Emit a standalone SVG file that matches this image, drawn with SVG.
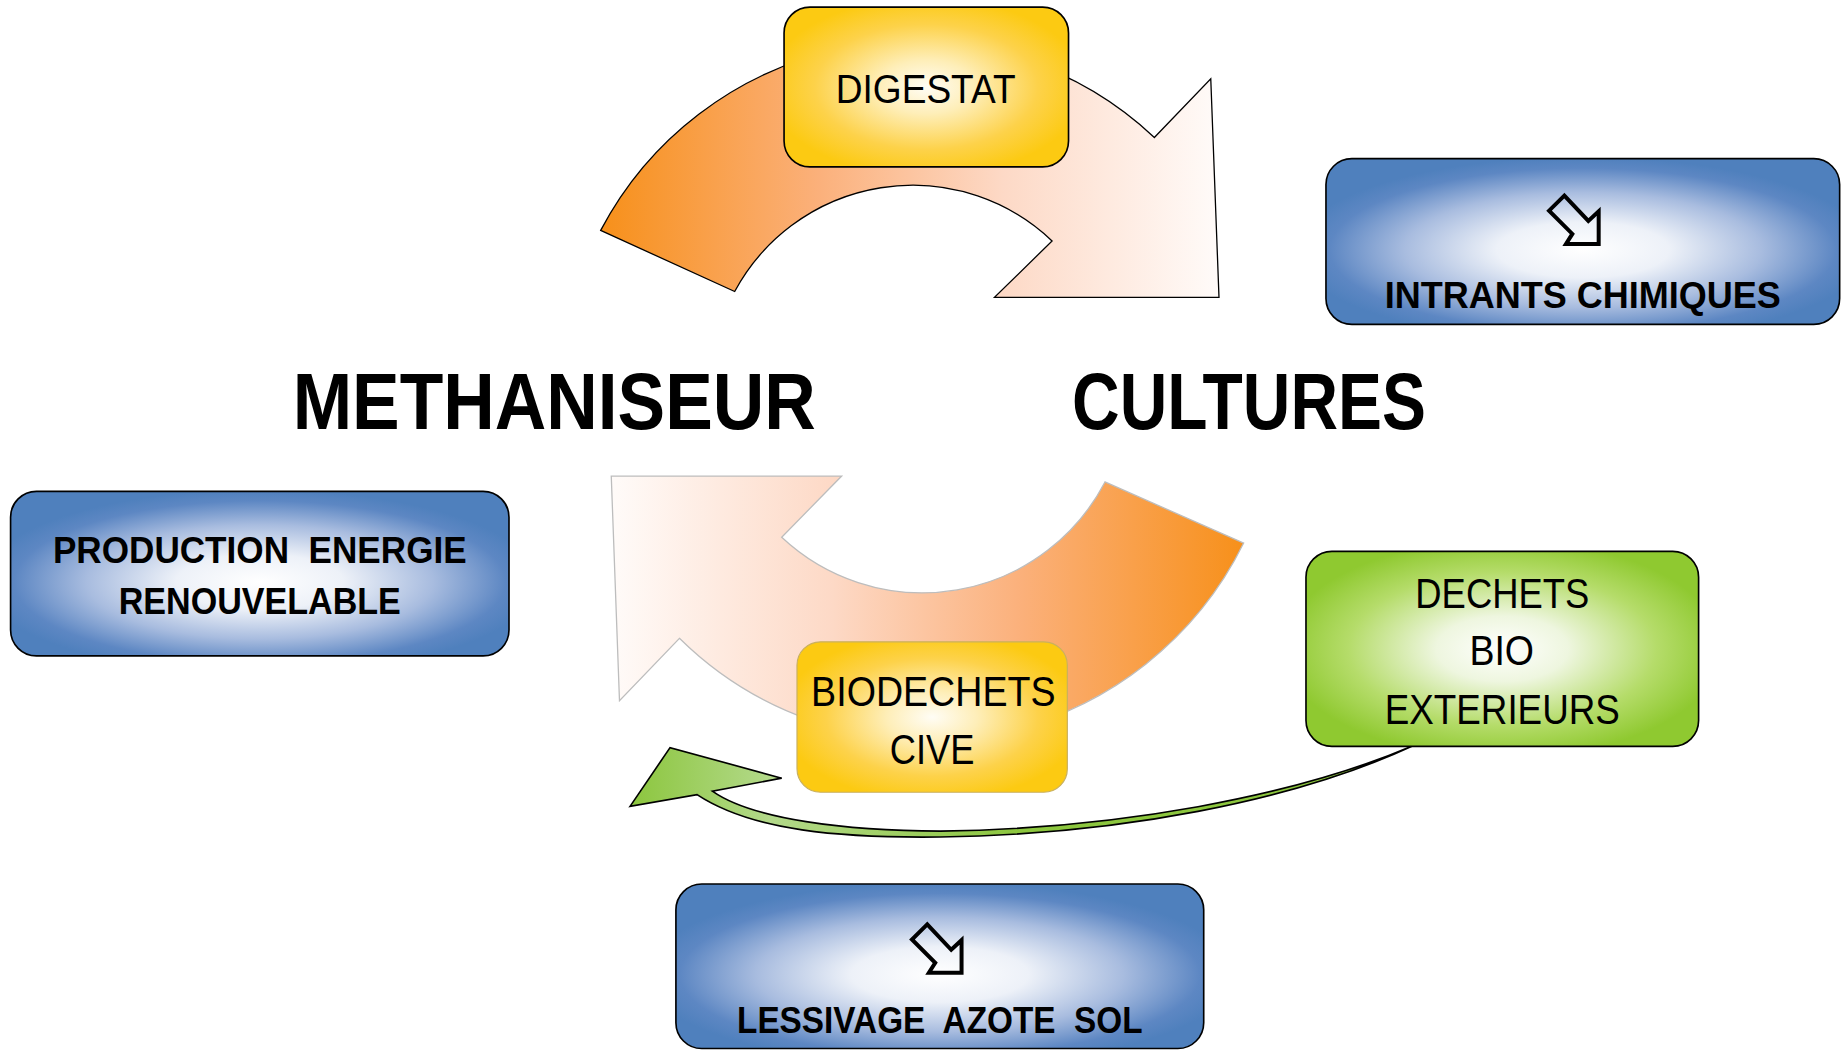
<svg xmlns="http://www.w3.org/2000/svg" width="1843" height="1051" viewBox="0 0 1843 1051">
<defs>
<style>
.t{font-family:"Liberation Sans",Arial,sans-serif;fill:#000;white-space:pre}
.b{font-weight:bold}
.box{stroke:#000;stroke-width:1.4}
.icon{fill:none;stroke:#000;stroke-width:3.4;stroke-linejoin:miter}
</style>
<linearGradient id="gTop" gradientUnits="userSpaceOnUse" x1="511" y1="0" x2="1037" y2="0">
<stop offset="0" stop-color="#f7901a"/>
<stop offset="0.35" stop-color="#fbb07a"/>
<stop offset="0.65" stop-color="#fdd9c6"/>
<stop offset="1" stop-color="#fffbf9"/>
</linearGradient>
<linearGradient id="gBot" gradientUnits="userSpaceOnUse" x1="520" y1="0" x2="1058" y2="0">
<stop offset="0" stop-color="#fffbf9"/>
<stop offset="0.35" stop-color="#fdd9c6"/>
<stop offset="0.65" stop-color="#fbb07a"/>
<stop offset="1" stop-color="#f7901a"/>
</linearGradient>
<linearGradient id="gGreenArrow" gradientUnits="userSpaceOnUse" x1="536" y1="0" x2="1200" y2="0">
<stop offset="0" stop-color="#8cc63e"/>
<stop offset="0.18" stop-color="#b3d98a"/>
<stop offset="0.5" stop-color="#8cc63e"/>
<stop offset="1" stop-color="#8cc63e"/>
</linearGradient>
<radialGradient id="gBlue" cx="0.5" cy="0.55" r="0.56">
<stop offset="0" stop-color="#ffffff"/>
<stop offset="0.3" stop-color="#edf1f8"/>
<stop offset="0.62" stop-color="#a8bcdf"/>
<stop offset="0.88" stop-color="#5d87c3"/>
<stop offset="1" stop-color="#4f80bd"/>
</radialGradient>
<radialGradient id="gYellow" cx="0.5" cy="0.5" r="0.56">
<stop offset="0" stop-color="#fffdf5"/>
<stop offset="0.3" stop-color="#feeeb8"/>
<stop offset="0.7" stop-color="#fdd24a"/>
<stop offset="1" stop-color="#fcca12"/>
</radialGradient>
<radialGradient id="gGreen" cx="0.5" cy="0.5" r="0.56">
<stop offset="0" stop-color="#ffffff"/>
<stop offset="0.3" stop-color="#eef6df"/>
<stop offset="0.7" stop-color="#b5dc6a"/>
<stop offset="1" stop-color="#8fc930"/>
</radialGradient>
<path id="dnArrow" d="M-9.2,-20.6 L-22.2,-7.8 L-2.4,12 L-7.8,20.5 L20,20.5 L20,-7.2 L11.2,1 Z"/>
</defs>
<rect width="1843" height="1051" fill="#fff"/>
<g transform="scale(1.1755)">
<g id="connectors">
<path id="arc-top" d="M511,196 A300,300 0 0 1 982,117 L1030,67 L1037,253 L846,253 L895,205 A172,172 0 0 0 625,248 Z" fill="url(#gTop)" stroke="#000" stroke-width="1.1"/>
<path id="arc-bottom" d="M1058,462 A300,300 0 0 1 578,543 L527,596 L520,405 L716,405 L665,457 A175,175 0 0 0 940,410 Z" fill="url(#gBot)" stroke="#bdbdbd" stroke-width="1.1"/>
<path id="green-arrow" d="M536,686 L570,636 L665,662 L606,673 C640,697 720,707 800,707 C950,705 1100,678 1203,634 C1100,682 950,710 800,712 C715,713 640,707 593,676 Z" fill="url(#gGreenArrow)" stroke="#000" stroke-width="1.4" stroke-linejoin="miter"/>
</g>
<g id="digestat">
<rect class="box" x="667" y="6" width="242" height="136" rx="22" fill="url(#gYellow)"/>
<text class="t" x="711" y="88" font-size="35" textLength="153" lengthAdjust="spacingAndGlyphs">DIGESTAT</text>
</g>
<g id="biodechets">
<rect x="678" y="546" width="230" height="128" rx="20" fill="url(#gYellow)" stroke="#c9b060" stroke-width="1"/>
<text class="t" x="690" y="601" font-size="36" textLength="208" lengthAdjust="spacingAndGlyphs">BIODECHETS</text>
<text class="t" x="757" y="650" font-size="36" textLength="72" lengthAdjust="spacingAndGlyphs">CIVE</text>
</g>
<g id="methaniseur">
<text class="t b" x="249" y="365" font-size="68" textLength="445" lengthAdjust="spacingAndGlyphs">METHANISEUR</text>
</g>
<g id="cultures">
<text class="t b" x="912" y="365" font-size="68" textLength="301" lengthAdjust="spacingAndGlyphs">CULTURES</text>
</g>
<g id="intrants">
<rect class="box" x="1128" y="135" width="437" height="141" rx="22" fill="url(#gBlue)"/>
<use href="#dnArrow" class="icon" transform="translate(1340,187)"/>
<text class="t b" x="1178" y="262" font-size="32" textLength="337" lengthAdjust="spacingAndGlyphs">INTRANTS CHIMIQUES</text>
</g>
<g id="production">
<rect class="box" x="9" y="418" width="424" height="140" rx="22" fill="url(#gBlue)"/>
<text class="t b" x="45" y="479" font-size="32" textLength="352" lengthAdjust="spacingAndGlyphs">PRODUCTION  ENERGIE</text>
<text class="t b" x="101" y="522" font-size="32" textLength="240" lengthAdjust="spacingAndGlyphs">RENOUVELABLE</text>
</g>
<g id="dechets">
<rect class="box" x="1111" y="469" width="334" height="166" rx="22" fill="url(#gGreen)"/>
<text class="t" x="1204" y="517" font-size="36" textLength="148" lengthAdjust="spacingAndGlyphs">DECHETS</text>
<text class="t" x="1250" y="566" font-size="36" textLength="55" lengthAdjust="spacingAndGlyphs">BIO</text>
<text class="t" x="1178" y="616" font-size="36" textLength="200" lengthAdjust="spacingAndGlyphs">EXTERIEURS</text>
</g>
<g id="lessivage">
<rect class="box" x="575" y="752" width="449" height="140" rx="22" fill="url(#gBlue)"/>
<use href="#dnArrow" class="icon" transform="translate(798,807)"/>
<text class="t b" x="627" y="879" font-size="32" textLength="345" lengthAdjust="spacingAndGlyphs">LESSIVAGE  AZOTE  SOL</text>
</g>
</g>
</svg>
